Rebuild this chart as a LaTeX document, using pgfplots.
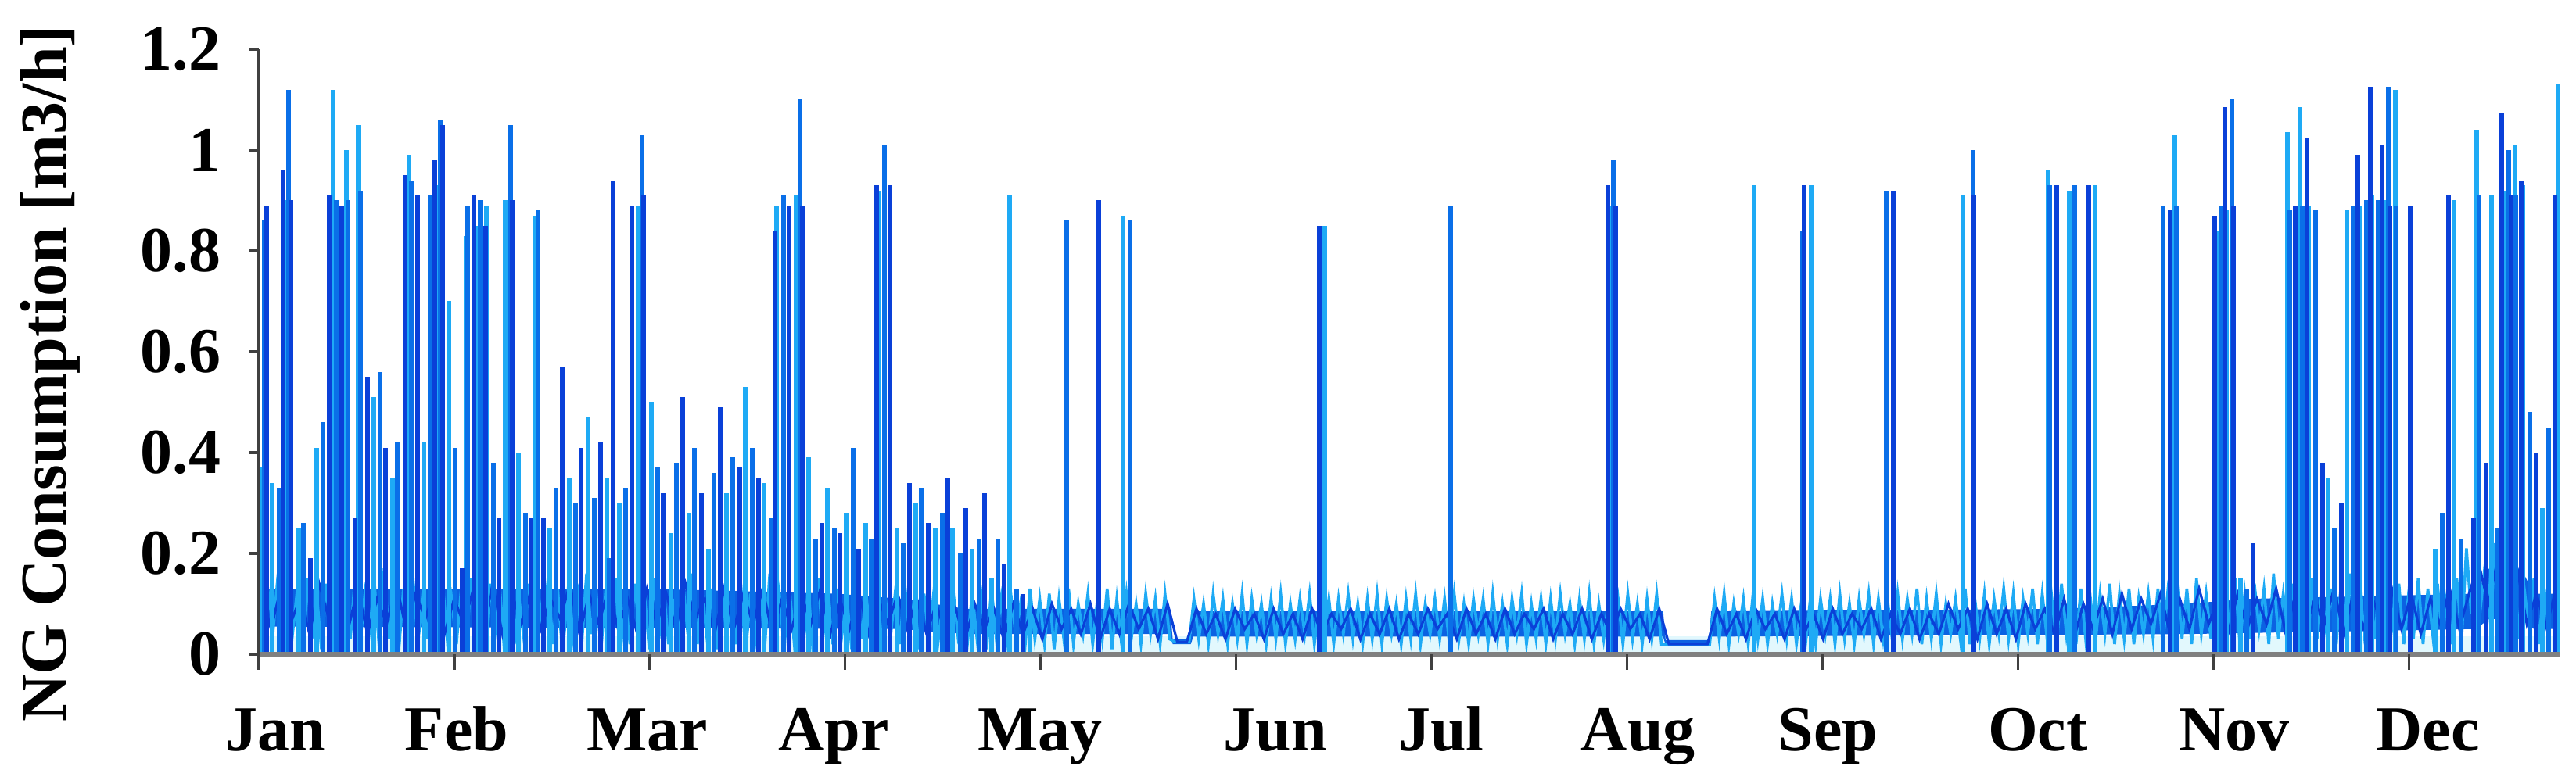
\documentclass[border=0pt]{standalone}
\usepackage{fontspec}
\setmainfont{Liberation Serif}
\usepackage{pgfplots}
\usepackage{pgfplotstable}
\pgfplotsset{compat=1.18}
\definecolor{cLight}{HTML}{1EAAF5}
\definecolor{cMid}{HTML}{0A6FE8}
\definecolor{cDark}{HTML}{0A40D8}
\definecolor{cPale}{HTML}{E2F8FD}
\definecolor{cBand}{HTML}{0C62E2}

% light baseline trace, one value every 0.75 day
\pgfplotstableread[row sep=\\]{
y\\
.14\\ .03\\ .12\\ .05\\ .16\\ .02\\ .11\\ .04\\ .13\\ .00\\ .15\\ .03\\ .12\\ .01\\ .14\\ .04\\ .10\\ .00\\ .13\\ .03\\
.16\\ .02\\ .12\\ .05\\ .14\\ .01\\ .17\\ .03\\ .11\\ .00\\ .13\\ .04\\ .15\\ .02\\ .12\\ .03\\ .14\\ .01\\ .16\\ .04\\
.11\\ .02\\ .13\\ .00\\ .15\\ .03\\ .12\\ .01\\ .14\\ .04\\ .13\\ .00\\ .16\\ .02\\ .11\\ .03\\ .14\\ .01\\ .12\\ .04\\
.15\\ .02\\ .13\\ .00\\ .11\\ .03\\ .14\\ .02\\ .16\\ .04\\ .12\\ .01\\ .13\\ .03\\ .15\\ .00\\ .11\\ .02\\ .14\\ .04\\
.12\\ .01\\ .15\\ .03\\ .13\\ .02\\ .11\\ .00\\ .14\\ .04\\ .16\\ .02\\ .12\\ .03\\ .13\\ .01\\ .15\\ .04\\ .11\\ .02\\
.14\\ .00\\ .12\\ .03\\ .13\\ .02\\ .16\\ .04\\ .12\\ .01\\ .14\\ .03\\ .11\\ .02\\ .13\\ .00\\ .15\\ .03\\ .12\\ .02\\
.13\\ .04\\ .11\\ .01\\ .14\\ .03\\ .12\\ .02\\ .13\\ .00\\ .11\\ .03\\ .12\\ .02\\ .14\\ .04\\ .11\\ .01\\ .12\\ .03\\
.12\\ .03\\ .11\\ .02\\ .13\\ .04\\ .10\\ .02\\ .12\\ .03\\ .11\\ .01\\ .13\\ .03\\ .11\\ .02\\ .12\\ .04\\ .10\\ .02\\
.13\\ .03\\ .11\\ .02\\ .12\\ .01\\ .11\\ .03\\ .13\\ .02\\ .10\\ .04\\ .12\\ .02\\ .11\\ .03\\ .13\\ .01\\ .11\\ .02\\
.12\\ .03\\ .10\\ .02\\ .12\\ .04\\ .11\\ .02\\ .12\\ .03\\
.025\\ .025\\ .025\\ .025\\
.11\\ .03\\ .10\\ .02\\ .12\\ .04\\ .11\\ .02\\ .10\\ .03\\ .12\\ .02\\ .11\\ .04\\ .10\\ .02\\ .11\\ .03\\ .12\\ .02\\
.10\\ .03\\ .11\\ .04\\ .12\\ .02\\ .10\\ .03\\ .11\\ .02\\ .11\\ .04\\ .12\\ .03\\ .10\\ .02\\ .11\\ .03\\ .12\\ .02\\
.11\\ .04\\ .10\\ .02\\ .11\\ .03\\ .12\\ .02\\ .10\\ .04\\ .11\\ .03\\ .11\\ .02\\ .12\\ .03\\ .10\\ .02\\ .11\\ .04\\
.11\\ .02\\ .12\\ .03\\ .10\\ .02\\ .11\\ .04\\ .12\\ .02\\ .10\\ .03\\ .11\\ .02\\ .11\\ .03\\ .12\\ .04\\ .10\\ .02\\
.11\\ .03\\ .12\\ .02\\ .10\\ .03\\ .11\\ .04\\ .11\\ .02\\ .12\\ .03\\ .10\\ .02\\ .11\\ .03\\ .12\\ .02\\
.02\\ .02\\ .02\\ .02\\ .02\\ .02\\ .02\\ .02\\ .02\\ .02\\
.11\\ .03\\ .12\\ .02\\ .10\\ .04\\ .11\\ .02\\ .12\\ .03\\ .11\\ .02\\ .10\\ .04\\ .12\\ .03\\ .11\\ .02\\ .10\\ .03\\
.12\\ .02\\ .11\\ .04\\ .11\\ .02\\ .12\\ .03\\ .10\\ .02\\ .11\\ .04\\ .12\\ .02\\ .11\\ .03\\ .10\\ .02\\ .12\\ .03\\
.11\\ .04\\ .13\\ .02\\ .11\\ .03\\ .12\\ .02\\ .10\\ .04\\ .11\\ .03\\ .13\\ .02\\ .11\\ .03\\ .12\\ .02\\ .11\\ .04\\
.13\\ .03\\ .12\\ .02\\ .11\\ .04\\ .13\\ .02\\ .12\\ .03\\ .11\\ .02\\ .14\\ .04\\ .12\\ .02\\ .13\\ .03\\ .11\\ .02\\
.12\\ .04\\ .14\\ .02\\ .12\\ .03\\ .13\\ .02\\ .11\\ .04\\ .12\\ .03\\ .13\\ .02\\ .12\\ .03\\ .14\\
.03\\ .13\\ .02\\ .15\\ .04\\ .12\\ .03\\ .14\\ .01\\ .13\\ .04\\ .15\\ .02\\ .12\\ .03\\ .14\\ .05\\ .13\\ .02\\ .16\\
.03\\ .12\\ .04\\ .14\\ .02\\ .13\\ .01\\ .15\\ .03\\ .12\\ .04\\ .13\\ .02\\ .14\\ .03\\ .16\\ .04\\ .12\\ .02\\ .13\\
.03\\ .15\\ .01\\ .13\\ .04\\ .14\\ .02\\ .12\\ .03\\ .15\\ .02\\ .13\\ .04\\ .14\\ .03\\ .12\\ .02\\ .15\\ .03\\
.21\\ .08\\ .20\\ .10\\ .19\\ .06\\ .22\\ .09\\ .18\\ .05\\
.14\\ .03\\ .13\\ .05\\ .15\\ .02\\ .13\\ .04\\
}\zigL

% dark baseline trace, one value every 1.5 day
\pgfplotstableread[row sep=\\]{
y\\
.12\\ .05\\ .13\\ .06\\ .11\\ .04\\ .14\\ .07\\ .12\\ .05\\ .13\\ .04\\ .11\\ .06\\ .14\\ .05\\ .12\\ .07\\ .13\\ .04\\
.11\\ .06\\ .13\\ .05\\ .14\\ .04\\ .12\\ .06\\ .13\\ .05\\ .11\\ .07\\ .14\\ .04\\ .12\\ .06\\ .13\\ .05\\ .11\\ .04\\
.13\\ .06\\ .12\\ .05\\ .14\\ .07\\ .11\\ .04\\ .13\\ .05\\ .12\\ .06\\ .13\\ .04\\ .11\\ .05\\ .12\\ .06\\ .13\\ .04\\
.11\\ .05\\ .12\\ .04\\ .11\\ .06\\ .12\\ .05\\ .11\\ .04\\
.10\\ .04\\ .09\\ .03\\ .10\\ .05\\ .09\\ .03\\ .10\\ .04\\ .09\\ .03\\ .10\\ .05\\ .09\\ .04\\ .10\\ .03\\ .09\\ .04\\
.10\\ .05\\ .09\\ .03\\ .10\\
.025\\ .025\\
.09\\ .04\\ .08\\ .03\\ .09\\ .05\\ .08\\ .03\\ .09\\ .04\\ .08\\ .03\\ .09\\ .04\\ .08\\ .05\\ .09\\ .03\\ .08\\ .04\\
.09\\ .03\\ .08\\ .04\\ .09\\ .05\\ .08\\ .03\\ .09\\ .04\\ .08\\ .03\\ .09\\ .04\\ .08\\ .05\\ .09\\ .03\\ .08\\ .04\\
.09\\ .03\\ .08\\ .04\\ .09\\ .05\\ .08\\ .03\\ .09\\
.02\\ .02\\ .02\\ .02\\ .02\\
.09\\ .04\\ .08\\ .03\\ .09\\ .05\\ .08\\ .03\\ .09\\ .04\\ .08\\ .03\\ .09\\ .04\\ .08\\ .05\\ .09\\ .03\\ .08\\ .04\\
.09\\ .03\\ .08\\ .04\\ .10\\ .05\\ .09\\ .03\\ .10\\ .04\\ .09\\ .03\\ .10\\ .05\\ .09\\ .04\\ .11\\ .03\\ .10\\ .05\\
.11\\ .04\\ .12\\ .05\\ .11\\ .06\\ .12\\ .04\\ .11\\ .05\\ .13\\ .06\\ .11\\ .04\\ .12\\ .05\\ .11\\ .06\\ .13\\ .04\\
.12\\ .05\\ .11\\ .06\\ .13\\ .04\\ .12\\ .05\\ .11\\ .06\\ .13\\ .05\\ .12\\ .04\\ .11\\ .06\\ .13\\ .05\\ .12\\
.18\\ .10\\ .19\\ .09\\ .17\\
.06\\ .12\\ .05\\ .13\\
}\zigD

% spikes (day, m3/h), three colour groups
\pgfplotstableread{
x y
0.16 .37
2.11 .34
4.14 .90
6.17 .25
9.00 .41
11.56 1.12
13.67 1.00
15.49 1.05
17.92 .51
20.77 .35
23.40 .99
25.71 .42
27.58 .93
29.60 .70
32.20 .83
33.66 .85
35.44 .89
38.33 .90
40.43 .40
43.07 .87
45.30 .25
48.26 .35
51.26 .47
54.11 .35
56.05 .30
58.97 .89
61.04 .50
64.16 .24
66.92 .28
69.96 .21
72.80 .32
75.72 .53
78.64 .34
80.59 .89
83.63 .91
85.57 .39
88.50 .33
91.42 .28
94.37 .26
96.32 .92
99.24 .25
102.20 .30
105.24 .25
107.96 .25
111.0 .21
114.05 .15
116.80 .91
119.93 .13
134.5 .87
165.8 .85
210.2 .89
232.7 .93
241.6 .93
265.1 .91
278.4 .96
281.7 .92
285.7 .93
298.1 1.03
305.1 .84
306.2 .88
308.3 .15
315.7 1.035
317.6 1.085
318.9 .89
322.0 .35
324.9 .88
326.8 .89
328.8 .91
330.7 .90
332.4 1.12
338.7 .21
341.6 .90
345.1 1.04
347.4 .91
349.3 .92
351.0 1.01
352.3 .93
355.3 .29
357.9 1.13
}\spA
\pgfplotstableread{
x y
0.81 .86
3.12 .33
4.62 1.12
6.97 .26
10.0 .46
12.05 .90
13.87 .90
15.82 .92
18.86 .56
21.57 .42
23.69 .94
26.65 .91
28.27 1.06
30.58 .41
32.52 .89
34.39 .90
36.50 .38
39.14 1.05
41.45 .28
43.40 .88
46.23 .33
49.24 .30
52.20 .31
54.51 .19
57.06 .33
59.62 1.03
62.01 .37
64.97 .38
67.81 .41
70.85 .36
73.77 .39
76.73 .41
79.69 .27
81.60 .91
84.24 1.10
86.59 .23
89.51 .25
92.43 .41
95.27 .23
97.29 1.01
100.25 .22
103.09 .33
106.34 .28
109.18 .20
112.02 .23
114.98 .23
117.90 .13
125.7 .86
135.5 .86
185.5 .89
210.8 .98
240.2 .84
253.2 .92
266.7 1.00
278.7 .93
282.6 .93
296.3 .89
298.4 .89
305.3 .89
307.0 1.10
309.3 .13
316.0 .88
317.9 .89
320.0 .88
323.0 .25
325.9 .89
327.9 .90
329.8 .90
331.3 1.125
332.6 .89
339.7 .28
342.6 .23
345.5 .91
348.4 .25
350.1 1.00
351.2 .91
353.4 .48
356.3 .45
}\spB
\pgfplotstableread{
x y
1.18 .89
3.81 .96
5.03 .90
8.07 .19
10.95 .91
12.86 .89
14.93 .27
16.91 .55
19.75 .41
22.71 .95
24.66 .91
27.34 .98
28.59 1.05
31.63 .17
33.46 .91
35.24 .85
37.39 .27
39.42 .90
42.34 .27
44.29 .27
47.25 .57
50.16 .41
53.21 .42
55.15 .94
57.99 .89
59.90 .91
62.94 .32
65.99 .51
68.82 .32
71.79 .49
74.83 .37
77.75 .35
80.30 .84
82.53 .89
84.52 .89
87.56 .26
90.40 .24
93.36 .21
96.12 .93
98.23 .93
101.27 .34
104.11 .26
107.15 .35
109.99 .29
112.95 .32
115.95 .18
118.91 .12
130.7 .90
165.0 .85
209.9 .93
211.1 .89
240.4 .93
254.3 .92
266.9 .91
279.8 .93
284.7 .93
297.4 .88
304.3 .87
305.9 1.085
307.2 .89
310.3 .22
316.9 .89
318.7 1.025
321.1 .38
324.0 .30
326.6 .99
328.5 1.125
330.4 1.01
331.6 .89
334.7 .89
340.7 .91
344.6 .27
346.5 .38
349.0 1.075
350.4 .91
352.0 .94
354.4 .40
357.3 .91
}\spC

\begin{document}
\begin{tikzpicture}
\path[use as bounding box] (0,0) rectangle (823.5pt,250.75pt);
\begin{axis}[
  at={(82.75pt,41.5pt)}, anchor=south west,
  scale only axis, width=735.5pt, height=193.5pt,
  xmin=0, xmax=358, ymin=0, ymax=1.2,
  axis lines*=left,
  axis on top,
  y axis line style={line width=0.8pt, draw=black!75},
  x axis line style={line width=1.7pt, draw=black!50},
  tick align=outside,
  major tick length=3pt,
  ytick={0,0.2,0.4,0.6,0.8,1,1.2},
  yticklabels={0,0.2,0.4,0.6,0.8,1,1.2},
  ytick style={draw=black!75, line width=0.8pt},
  xtick={2.56,30.78,60.47,89.43,121.55,158.17,183.96,214.62,244.19,276.80,307.34,337.51},
  xticklabels={Jan,Feb,Mar,Apr,May,Jun,Jul,Aug,Sep,Oct,Nov,Dec},
  xtick style={draw=none},
  extra x ticks={0,30.4167,60.8333,91.25,121.6667,152.0833,182.5,212.9167,243.3333,273.75,304.1667,334.5833},
  extra x tick labels={},
  extra x tick style={xtick style={draw=black!75, line width=0.8pt}, major tick length=5pt},
  ticklabel style={font=\fontsize{20.5}{24}\selectfont\bfseries},
  yticklabel style={anchor=east, inner sep=0pt, xshift=-9pt},
  xticklabel style={anchor=base, inner sep=0pt, yshift=-28pt},
]
\addplot[draw=none, fill=cPale] coordinates {(0,0) (0,0.035) (358,0.035) (358,0)} -- cycle;
\addplot[draw=none, fill=cBand] coordinates {
(0,.13)(30,.13)(60,.13)(90,.12)(100,.11)(110,.09)(141.8,.09)(142.2,.03)(145,.03)(145.4,.085)
(218.5,.085)(218.9,.028)(225.6,.028)(226,.085)(280,.09)(300,.10)(310,.11)(345,.12)(347,.17)(352,.17)(354,.12)(358,.12)
(358,.05)(354,.05)(352,.07)(347,.07)(345,.05)(300,.04)(226,.035)(225.6,.018)(218.9,.018)(218.5,.035)
(145.4,.035)(145,.02)(142.2,.02)(141.8,.04)(110,.04)(100,.05)(0,.055)} -- cycle;
\addplot[cLight, line width=0.9pt] table[x expr=\coordindex*0.75, y=y]{\zigL};
\addplot[cDark, line width=0.8pt] table[x expr=\coordindex*1.5+0.4, y=y]{\zigD};
\addplot[ycomb, cLight, line width=1.5pt] table[x=x, y=y]{\spA};
\addplot[ycomb, cMid, line width=1.5pt] table[x=x, y=y]{\spB};
\addplot[ycomb, cDark, line width=1.5pt] table[x=x, y=y]{\spC};
\end{axis}
\node[rotate=90, anchor=center, font=\fontsize{21}{25}\selectfont\bfseries] at (16pt,131.25pt) {NG Consumption [m3/h]};
\end{tikzpicture}
\end{document}
